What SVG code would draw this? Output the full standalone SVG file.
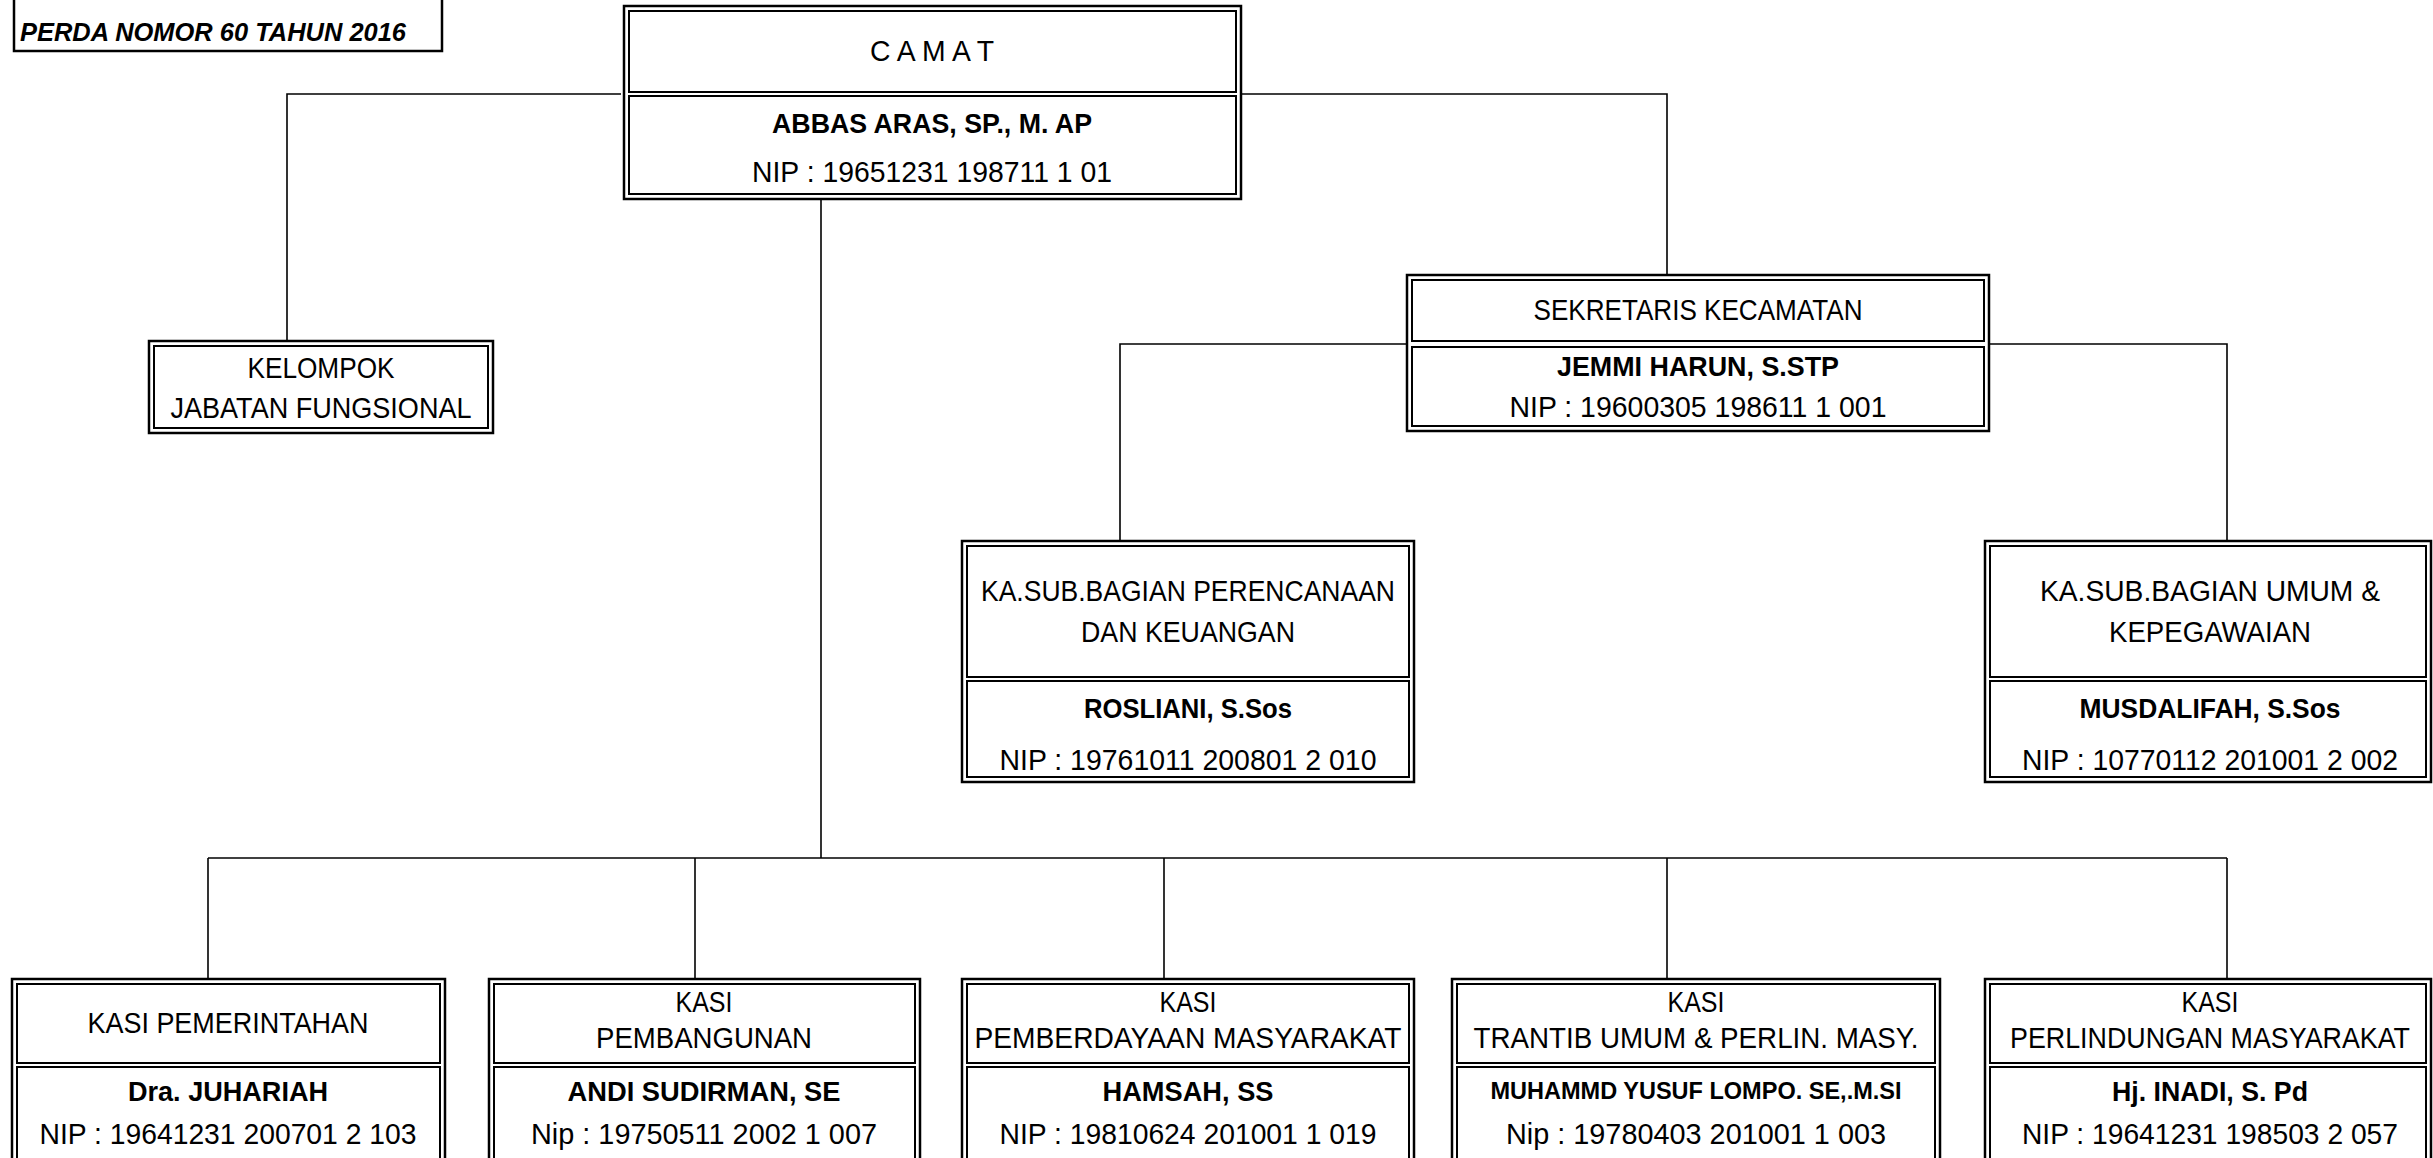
<svg xmlns="http://www.w3.org/2000/svg" width="2433" height="1158" viewBox="0 0 2433 1158">
<style>
.o{fill:#fff;stroke:#000;stroke-width:2.5}
.i{fill:none;stroke:#000;stroke-width:2}
text{font-family:"Liberation Sans",Arial,sans-serif;font-size:29px;text-anchor:middle;fill:#000}
.b{font-weight:bold;font-size:28px}
.c path{fill:none;stroke:#000;stroke-width:1.6}
</style>
<rect width="2433" height="1158" fill="#fff"/>
<g id="connectors" class="c">
<path d="M621 94 H287 V341"/>
<path d="M1241 94 H1667 V275"/>
<path d="M821 199 V858"/>
<path d="M208 858 H2227"/>
<path d="M208 858 V979"/>
<path d="M695 858 V979"/>
<path d="M1164 858 V979"/>
<path d="M1667 858 V979"/>
<path d="M2227 858 V979"/>
<path d="M1407 344 H1120 V541"/>
<path d="M1989 344 H2227 V541"/>
</g>
<g id="perda">
<rect x="14" y="-10" width="428" height="61" fill="#fff" stroke="#000" stroke-width="2.5"/>
<text x="20" y="41" style="text-anchor:start;font-weight:bold;font-style:italic;font-size:25px" textLength="386" lengthAdjust="spacingAndGlyphs">PERDA NOMOR 60 TAHUN 2016</text>
</g>
<g id="camat">
<rect class="o" x="624" y="6" width="617" height="193"/>
<rect class="i" x="629" y="11" width="607" height="81"/>
<rect class="i" x="629" y="96" width="607" height="98"/>
<text x="932" y="61" textLength="124" lengthAdjust="spacingAndGlyphs">C A M A T</text>
<text class="b" x="932" y="133" textLength="320" lengthAdjust="spacingAndGlyphs">ABBAS ARAS, SP., M. AP</text>
<text x="932" y="182" textLength="360" lengthAdjust="spacingAndGlyphs">NIP : 19651231 198711 1 01</text>
</g>
<g id="kelompok">
<rect class="o" x="149" y="341" width="344" height="92"/>
<rect class="i" x="154" y="346" width="334" height="82"/>
<text x="321" y="378" textLength="147" lengthAdjust="spacingAndGlyphs">KELOMPOK</text>
<text x="321" y="418" textLength="301" lengthAdjust="spacingAndGlyphs">JABATAN FUNGSIONAL</text>
</g>
<g id="sekretaris">
<rect class="o" x="1407" y="275" width="582" height="156"/>
<rect class="i" x="1412" y="280" width="572" height="61"/>
<rect class="i" x="1412" y="347" width="572" height="79"/>
<text x="1698" y="320" textLength="329" lengthAdjust="spacingAndGlyphs">SEKRETARIS KECAMATAN</text>
<text class="b" x="1698" y="376" textLength="282" lengthAdjust="spacingAndGlyphs">JEMMI HARUN, S.STP</text>
<text x="1698" y="417" textLength="377" lengthAdjust="spacingAndGlyphs">NIP : 19600305 198611 1 001</text>
</g>
<g id="kasubag-perencanaan">
<rect class="o" x="962" y="541" width="452" height="241"/>
<rect class="i" x="967" y="546" width="442" height="131"/>
<rect class="i" x="967" y="681" width="442" height="96"/>
<text x="1188" y="601" textLength="414" lengthAdjust="spacingAndGlyphs">KA.SUB.BAGIAN PERENCANAAN</text>
<text x="1188" y="642" textLength="214" lengthAdjust="spacingAndGlyphs">DAN KEUANGAN</text>
<text class="b" x="1188" y="718" textLength="208" lengthAdjust="spacingAndGlyphs">ROSLIANI, S.Sos</text>
<text x="1188" y="770" textLength="377" lengthAdjust="spacingAndGlyphs">NIP : 19761011 200801 2 010</text>
</g>
<g id="kasubag-umum">
<rect class="o" x="1985" y="541" width="446" height="241"/>
<rect class="i" x="1990" y="546" width="436" height="131"/>
<rect class="i" x="1990" y="681" width="436" height="96"/>
<text x="2210" y="601" textLength="340" lengthAdjust="spacingAndGlyphs">KA.SUB.BAGIAN UMUM &amp;</text>
<text x="2210" y="642" textLength="202" lengthAdjust="spacingAndGlyphs">KEPEGAWAIAN</text>
<text class="b" x="2210" y="718" textLength="261" lengthAdjust="spacingAndGlyphs">MUSDALIFAH, S.Sos</text>
<text x="2210" y="770" textLength="376" lengthAdjust="spacingAndGlyphs">NIP : 10770112 201001 2 002</text>
</g>
<g id="kasi-pemerintahan">
<rect class="o" x="12" y="979" width="433" height="200"/>
<rect class="i" x="17" y="984" width="423" height="79"/>
<rect class="i" x="17" y="1067" width="423" height="120"/>
<text x="228" y="1033" textLength="281" lengthAdjust="spacingAndGlyphs">KASI PEMERINTAHAN</text>
<text class="b" x="228" y="1101" textLength="200" lengthAdjust="spacingAndGlyphs">Dra. JUHARIAH</text>
<text x="228" y="1144" textLength="377" lengthAdjust="spacingAndGlyphs">NIP : 19641231 200701 2 103</text>
</g>
<g id="kasi-pembangunan">
<rect class="o" x="489" y="979" width="431" height="200"/>
<rect class="i" x="494" y="984" width="421" height="79"/>
<rect class="i" x="494" y="1067" width="421" height="120"/>
<text x="704" y="1012" textLength="57" lengthAdjust="spacingAndGlyphs">KASI</text>
<text x="704" y="1048" textLength="216" lengthAdjust="spacingAndGlyphs">PEMBANGUNAN</text>
<text class="b" x="704" y="1101" textLength="273" lengthAdjust="spacingAndGlyphs">ANDI SUDIRMAN, SE</text>
<text x="704" y="1144" textLength="346" lengthAdjust="spacingAndGlyphs">Nip : 19750511 2002 1 007</text>
</g>
<g id="kasi-pemberdayaan">
<rect class="o" x="962" y="979" width="452" height="200"/>
<rect class="i" x="967" y="984" width="442" height="79"/>
<rect class="i" x="967" y="1067" width="442" height="120"/>
<text x="1188" y="1012" textLength="57" lengthAdjust="spacingAndGlyphs">KASI</text>
<text x="1188" y="1048" textLength="427" lengthAdjust="spacingAndGlyphs">PEMBERDAYAAN MASYARAKAT</text>
<text class="b" x="1188" y="1101" textLength="171" lengthAdjust="spacingAndGlyphs">HAMSAH, SS</text>
<text x="1188" y="1144" textLength="377" lengthAdjust="spacingAndGlyphs">NIP : 19810624 201001 1 019</text>
</g>
<g id="kasi-trantib">
<rect class="o" x="1452" y="979" width="488" height="200"/>
<rect class="i" x="1457" y="984" width="478" height="79"/>
<rect class="i" x="1457" y="1067" width="478" height="120"/>
<text x="1696" y="1012" textLength="57" lengthAdjust="spacingAndGlyphs">KASI</text>
<text x="1696" y="1048" textLength="445" lengthAdjust="spacingAndGlyphs">TRANTIB UMUM &amp; PERLIN. MASY.</text>
<text class="b" x="1696" y="1099" style="font-size:23px" textLength="411" lengthAdjust="spacingAndGlyphs">MUHAMMD YUSUF LOMPO. SE,.M.SI</text>
<text x="1696" y="1144" textLength="380" lengthAdjust="spacingAndGlyphs">Nip : 19780403 201001 1 003</text>
</g>
<g id="kasi-perlindungan">
<rect class="o" x="1985" y="979" width="446" height="200"/>
<rect class="i" x="1990" y="984" width="436" height="79"/>
<rect class="i" x="1990" y="1067" width="436" height="120"/>
<text x="2210" y="1012" textLength="57" lengthAdjust="spacingAndGlyphs">KASI</text>
<text x="2210" y="1048" textLength="400" lengthAdjust="spacingAndGlyphs">PERLINDUNGAN MASYARAKAT</text>
<text class="b" x="2210" y="1101" textLength="196" lengthAdjust="spacingAndGlyphs">Hj. INADI, S. Pd</text>
<text x="2210" y="1144" textLength="376" lengthAdjust="spacingAndGlyphs">NIP : 19641231 198503 2 057</text>
</g>
</svg>
